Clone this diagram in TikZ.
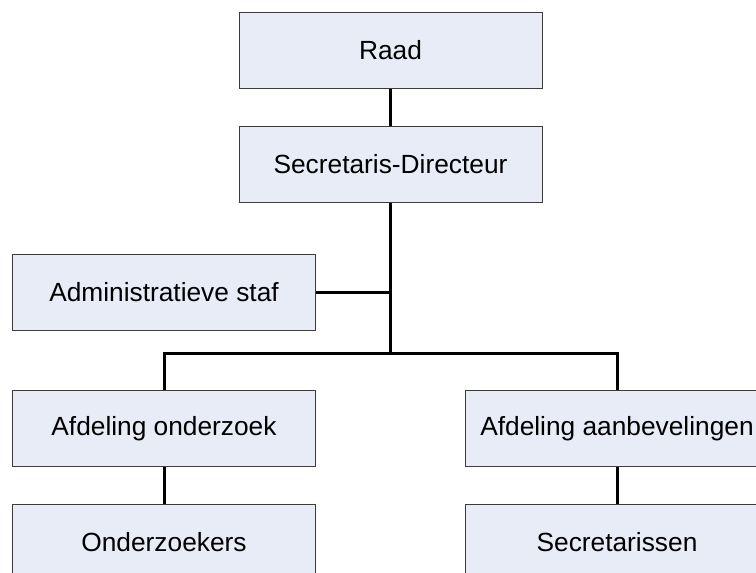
\documentclass[tikz,border=0pt]{standalone}
\usepackage{fontspec}
\setmainfont{Liberation Sans}
\definecolor{boxfill}{RGB}{232,236,246}
\definecolor{boxline}{RGB}{60,60,60}
\begin{document}
\begin{tikzpicture}[x=1pt,y=-1pt,
  orgbox/.style={draw=boxline, line width=1pt, fill=boxfill,
    minimum width=303pt, minimum height=76pt, inner sep=0pt,
    font=\fontsize{26.3}{31}\selectfont},
  link/.style={line width=3pt, black}]
  \clip (0,0) rectangle (756,573);
  \useasboundingbox (0,0) rectangle (756,573);
  \fill[white] (0,0) rectangle (756,573);

  % boxes of the organisation chart
  \node[orgbox] (raad)  at (390.5,50)  {Raad};
  \node[orgbox] (sd)    at (390.5,164) {Secretaris-Directeur};
  \node[orgbox] (admin) at (164,292)   {Administratieve staf};
  \node[orgbox] (ao)    at (164,428.5) {Afdeling onderzoek};
  \node[orgbox] (aa)    at (617,428.5) {Afdeling aanbevelingen};
  \node[orgbox] (oz)    at (164,542)   {Onderzoekers};
  \node[orgbox] (sec)   at (617,542)   {Secretarissen};

  % branch point under the director
  \coordinate (hub) at (390.5,353);

  % connectors
  \draw[link] (raad.south) -- (sd.north);
  \draw[link] (sd.south) -- (hub);
  \draw[link] (admin.east) -- (admin.east -| hub);
  \draw[link] (hub) -| (ao.north);
  \draw[link] (hub) -| (aa.north);
  \draw[link] (ao.south) -- (oz.north);
  \draw[link] (aa.south) -- (sec.north);
\end{tikzpicture}
\end{document}
